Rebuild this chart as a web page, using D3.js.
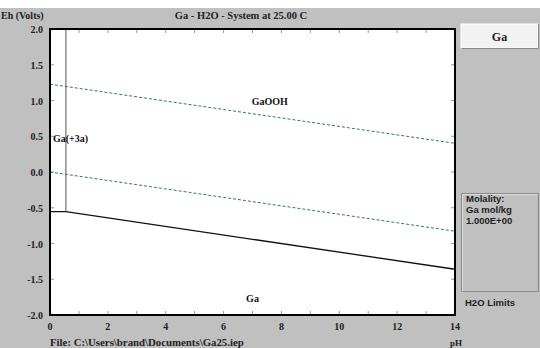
<!DOCTYPE html>
<html><head><meta charset="utf-8">
<script src="https://cdn.jsdelivr.net/npm/d3@7"></script>
<style>html,body{margin:0;padding:0;background:#fff;}svg{display:block;}</style>
</head><body>
<svg id="c" width="540" height="348"></svg>
<script>
// ---- data ----
const phTicks = [0, 2, 4, 6, 8, 10, 12, 14];
const phMinor = [0,1,2,3,4,5,6,7,8,9,10,11,12,13,14];
const ehTicks = [2.0, 1.5, 1.0, 0.5, 0.0, -0.5, -1.0, -1.5, -2.0];
const waterUpperPH = [0, 14];
const waterUpperEh = [1.229, 0.401];
const waterLowerPH = [0, 14];
const waterLowerEh = [0.0, -0.828];
const gaBoundaryPH = [0, 0.55, 14];
const gaBoundaryEh = [-0.555, -0.555, -1.36];
const ga3BoundaryPH = [0.55, 0.55];
const ga3BoundaryEh = [2.0, -0.555];
const fieldNames = ["GaOOH", "Ga(+3a)", "Ga"];
const fieldPH = [7.6, 0.1, 7.0];
const fieldEh = [1.0, 0.48, -1.76];
const fieldAnchor = ["middle", "start", "middle"];

const svg = d3.select("#c");
const W = 540, H = 348;
const m = {l: 50, r: 455, t: 29, b: 315};
const x = d3.scaleLinear().domain([0, 14]).range([m.l, m.r]);
const y = d3.scaleLinear().domain([-2, 2]).range([m.b, m.t]);
const serif = "'Liberation Serif','Times New Roman',serif";
const sans = "'Liberation Sans','DejaVu Sans',sans-serif";

// background
svg.append("rect").attr("x",0).attr("y",0).attr("width",W).attr("height",H).attr("fill","#fff");
svg.append("rect").attr("x",0).attr("y",8).attr("width",W).attr("height",H-8).attr("fill","#c0c0c0");
svg.append("rect").attr("x",m.l).attr("y",m.t).attr("width",m.r-m.l).attr("height",m.b-m.t).attr("fill","#fff");

// ticks (inward)
const g = svg.append("g");
g.selectAll(".tt").data(phMinor).join("line")
  .attr("x1",d=>x(d)).attr("x2",d=>x(d)).attr("y1",m.t).attr("y2",m.t+4)
  .attr("stroke","#999").attr("stroke-width",1);
g.selectAll(".tb").data(phMinor).join("line")
  .attr("x1",d=>x(d)).attr("x2",d=>x(d)).attr("y1",m.b).attr("y2",m.b-4)
  .attr("stroke","#999").attr("stroke-width",1);
g.selectAll(".tl").data(ehTicks).join("line")
  .attr("x1",m.l).attr("x2",m.l+4).attr("y1",d=>y(d)).attr("y2",d=>y(d))
  .attr("stroke","#999").attr("stroke-width",1);
g.selectAll(".tr").data(ehTicks).join("line")
  .attr("x1",m.r).attr("x2",m.r-4).attr("y1",d=>y(d)).attr("y2",d=>y(d))
  .attr("stroke","#999").attr("stroke-width",1);

// lines
const line = d3.line().x(d=>x(d[0])).y(d=>y(d[1]));
const zip = (a,b)=>a.map((v,i)=>[v,b[i]]);
svg.append("path").attr("d", line(zip(waterUpperPH, waterUpperEh)))
  .attr("fill","none").attr("stroke","#2e7d62").attr("stroke-width",1).attr("stroke-dasharray","3,2");
svg.append("path").attr("d", line(zip(waterLowerPH, waterLowerEh)))
  .attr("fill","none").attr("stroke","#2e7d62").attr("stroke-width",1).attr("stroke-dasharray","3,2");
svg.append("path").attr("d", line(zip(ga3BoundaryPH, ga3BoundaryEh)))
  .attr("fill","none").attr("stroke","#555").attr("stroke-width",1);
svg.append("path").attr("d", line(zip(gaBoundaryPH, gaBoundaryEh)))
  .attr("fill","none").attr("stroke","#111").attr("stroke-width",1.3);

// field labels
fieldNames.forEach((n,i)=>{
  svg.append("text").attr("x",x(fieldPH[i])).attr("y",y(fieldEh[i])+4)
    .attr("text-anchor",fieldAnchor[i]).attr("font-family",serif).attr("font-weight","bold")
    .attr("font-size",10).attr("fill","#111").text(n);
});

// border
svg.append("rect").attr("x",m.l).attr("y",m.t).attr("width",m.r-m.l).attr("height",m.b-m.t)
  .attr("fill","none").attr("stroke","#000").attr("stroke-width",2);

// axis labels
svg.selectAll(".yl").data(ehTicks).join("text")
  .attr("x",43).attr("y",d=>y(d)+4).attr("text-anchor","end")
  .attr("font-family",serif).attr("font-weight","bold").attr("font-size",10).attr("fill","#222")
  .text(d=>d3.format(".1f")(d).replace("−","-"));
svg.selectAll(".xl").data(phTicks).join("text")
  .attr("x",d=>x(d)).attr("y",330).attr("text-anchor","middle")
  .attr("font-family",serif).attr("font-weight","bold").attr("font-size",10).attr("fill","#222")
  .text(d=>d);

const txt = (s,xx,yy,anchor,fam,size)=>svg.append("text").attr("x",xx).attr("y",yy)
  .attr("text-anchor",anchor||"start").attr("font-family",fam||serif).attr("font-weight","bold")
  .attr("font-size",size||10).attr("fill","#222").text(s);
txt("Eh (Volts)", 1, 19);
txt("Ga - H2O - System at 25.00 C", 241, 19, "middle", serif, 10.5);
txt("pH", 456, 346, "middle", serif, 9);
txt("File: C:\\Users\\brand\\Documents\\Ga25.iep", 50, 346, "start", serif, 10.8);

// right panel: button
svg.append("rect").attr("x",461).attr("y",24).attr("width",77).attr("height",24).attr("fill","#f2f2f2")
  .attr("stroke","#fff").attr("stroke-width",1);
svg.append("path").attr("d","M461.5,48.5H538.5V24").attr("fill","none").attr("stroke","#888");
txt("Ga", 499.5, 41, "middle", serif, 12);

// molality box
svg.append("rect").attr("x",461.5).attr("y",193.5).attr("width",77).attr("height",98)
  .attr("fill","#c0c0c0").attr("stroke","#8a8a8a").attr("stroke-width",1);
svg.append("path").attr("d","M462.5,291.5V194.5H537.5").attr("fill","none").attr("stroke","#dcdcdc");
txt("Molality:", 466, 202, "start", sans, 9.5);
txt("Ga mol/kg", 466, 213, "start", sans, 9.5);
txt("1.000E+00", 466, 224, "start", sans, 9.5);
txt("H2O Limits", 465, 306, "start", sans, 9.5);
</script>
</body></html>
